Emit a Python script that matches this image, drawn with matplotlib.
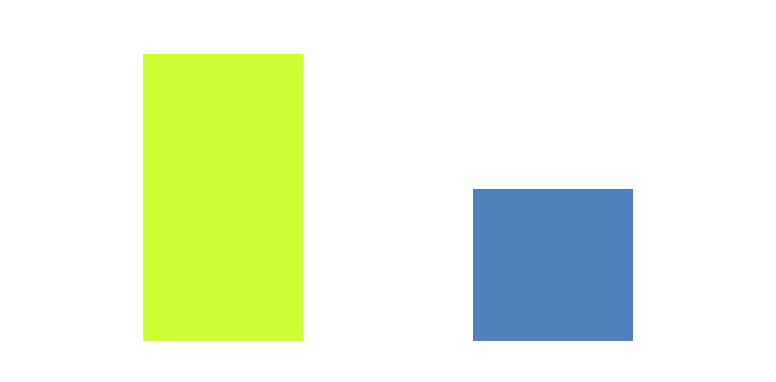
import matplotlib
matplotlib.use("Agg")
import matplotlib.pyplot as plt

categories = ["A", "B"]
values = [17, 9]
colors = ["#CCFF33", "#4F81BD"]

W, H = 776, 382
BASE_PX = 41          # bar baseline distance from bottom
TALL_PX = 287         # pixel height of the tallest bar
CENTERS_PX = [223, 553]
BAR_PX = 160

fig = plt.figure(figsize=(W / 100, H / 100), dpi=100)
ax = fig.add_axes([0, BASE_PX / H, 1, (H - BASE_PX) / H])

step = CENTERS_PX[1] - CENTERS_PX[0]
ax.bar(range(len(categories)), values, width=BAR_PX / step, color=colors)

ax.set_xlim(-CENTERS_PX[0] / step, 1 + (W - CENTERS_PX[1]) / step)
ax.set_ylim(0, max(values) * (H - BASE_PX) / TALL_PX)
ax.axis("off")

fig.savefig("out.png", dpi=100)
